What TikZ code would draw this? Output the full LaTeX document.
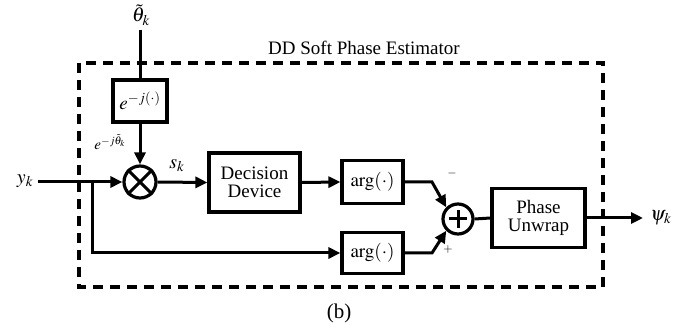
\documentclass[tikz,border=0pt]{standalone}
\usepackage{mathptmx}
\usepackage[no-math]{fontspec}
\setmainfont{Liberation Serif}
\usetikzlibrary{arrows.meta,calc}

\tikzset{
  wire/.style={line width=3pt},
  arr/.style={wire,-{Triangle[length=12pt,width=11pt]}},
  blk/.style={draw,line width=3.2pt,minimum width=#1,inner sep=0pt,align=center,
    font=\fontsize{19}{20}\selectfont},
  blk/.default=60pt,
  circ/.style={draw,circle,line width=3.2pt,minimum size=#1,inner sep=0pt},
  lbl/.style={font=\fontsize{20}{21}\selectfont,inner sep=0pt},
  frame/.style={line width=3.2pt,dash pattern=on 10pt off 7pt},
}

\begin{document}
\begin{tikzpicture}[x=1pt,y=-1pt]
  \useasboundingbox (0,0) rectangle (681,331);

  % enclosing dashed frame and its title
  \draw[frame] (79,63) rectangle (603,287);
  \node[lbl,font=\fontsize{19}{20}\selectfont] (title) at (364,48) {DD Soft Phase Estimator};

  % blocks
  \node[blk=54pt,minimum height=42pt] (expb) at (140,101) {$e^{-j(\cdot)}$};
  \node[circ=32pt] (mult) at (140,182) {};
  \draw[line width=3pt] (mult.north west) -- (mult.south east)
                        (mult.north east) -- (mult.south west);
  \node[blk=91pt,minimum height=59pt] (dec) at (254.5,182.5) {Decision\\[-2pt]Device};
  \node[blk=61pt,minimum height=43pt] (argA) at (372.5,182) {$\arg(\cdot)$};
  \node[blk=61pt,minimum height=41pt] (argB) at (372.5,253) {$\arg(\cdot)$};
  \node[circ=30pt] (sum) at (458,219) {};
  \draw[line width=3pt] ($(sum.center)+(-9,0)$) -- ($(sum.center)+(9,0)$)
                        ($(sum.center)+(0,-9)$) -- ($(sum.center)+(0,9)$);
  \node[blk=93pt,minimum height=59pt] (unw) at (538.5,218) {Phase\\[-2pt]Unwrap};

  % signal labels
  \node[lbl] (theta) at (141,15) {$\tilde{\theta}_k$};
  \node[lbl,font=\fontsize{15}{16}\selectfont] (ejt) at (110,142) {$e^{-j\tilde{\theta}_k}$};
  \node[lbl] (yk) at (25,181) {$y_k$};
  \node[lbl] (sk) at (177,166) {$s_k$};
  \node[lbl] (psi) at (661,218) {$\psi_k$};
  \node[lbl,font=\fontsize{12}{12}\selectfont] (minus) at (452,174) {$-$};
  \node[lbl,font=\fontsize{12}{12}\selectfont] (plus) at (448,250) {$+$};
  \node[lbl,font=\fontsize{21}{22}\selectfont] (cap) at (339,313) {(b)};

  % junction points
  \coordinate (tin) at (140,30);
  \coordinate (yin) at (38,182);
  \coordinate (br) at (92,182);
  \coordinate (kA) at (432,182);
  \coordinate (kB) at (432,253);
  \coordinate (pout) at (643,218);

  % connectors
  \draw[wire] (tin) -- (expb.north);
  \draw[arr] (expb.south) -- (mult.north);
  \draw[arr] (yin) -- (mult.west);
  \draw[arr] (br) |- (argB.west);
  \draw[arr] (mult.east) -- (dec.west);
  \draw[arr] (dec.east) -- (argA.west);
  \draw[arr] (argA.east) -- (kA) -- (sum.north west);
  \draw[arr] (argB.east) -- (kB) -- (sum.south west);
  \draw[wire] (sum.east) -- (unw.west);
  \draw[arr] (unw.east) -- (pout);
\end{tikzpicture}
\end{document}
